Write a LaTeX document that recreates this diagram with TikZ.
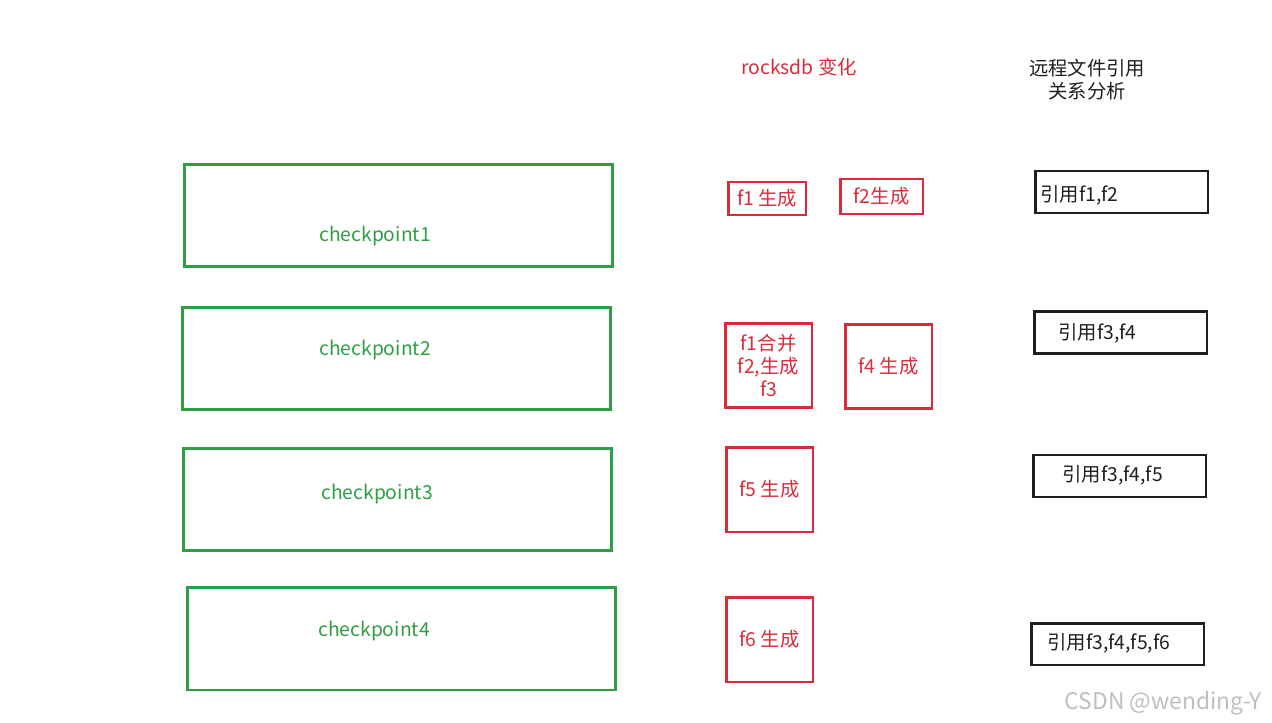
\documentclass[tikz,border=0pt]{standalone}
\usepackage{fontspec}
\setmainfont{Noto Sans CJK SC}
\usepackage{xcolor}
\usetikzlibrary{positioning}

\definecolor{cpgreen}{HTML}{2F9E44}
\definecolor{chred}{HTML}{D92B3A}
\definecolor{refblack}{HTML}{1E1E1E}

\begin{document}
\begin{tikzpicture}[x=0.02cm,y=-0.02cm,every node/.style={font=\fontsize{11}{13}\selectfont},
  cpbox/.style={draw=cpgreen,line width=1.7pt,rectangle,minimum width=8.58cm,minimum height=2.06cm},
  cplabel/.style={text=cpgreen},
  chbox/.style={draw=chred,line width=1.7pt,rectangle,text=chred,align=center,inner sep=1pt},
  refbox/.style={draw=refblack,line width=1.7pt,rectangle,minimum width=3.46cm,minimum height=0.84cm},
  reflabel/.style={text=refblack,anchor=west,inner sep=0pt}]

\useasboundingbox (0,0) rectangle (1272,723);

% column titles
\node[text=chred] (ttlrocks) at (799,67) {rocksdb 变化};
\node[text=refblack,align=center] (ttlref) at (1087,80) {远程文件引用\\关系分析};

% checkpoints
\node[cpbox] (cp1) at (398.5,215.5) {};
\node[cplabel] (cp1txt) at (375,236) {checkpoint1};
\node[cpbox] (cp2) at (396.5,358.5) {};
\node[cplabel] (cp2txt) at (375,350) {checkpoint2};
\node[cpbox] (cp3) at (397.5,499.5) {};
\node[cplabel] (cp3txt) at (377,494) {checkpoint3};
\node[cpbox] (cp4) at (401.5,638.5) {};
\node[cplabel] (cp4txt) at (374,631) {checkpoint4};

% rocksdb changes
\node[chbox,minimum width=1.56cm,minimum height=0.66cm] (gen1) at (767,198.5) {f1 生成};
\node[chbox,minimum width=1.66cm,minimum height=0.70cm] (gen2) at (881.5,196.5) {f2生成};
\node[chbox,minimum width=1.74cm,minimum height=1.70cm] (merge3) at (768.5,365.5) {f1合并\\f2,生成\\f3};
\node[chbox,minimum width=1.74cm,minimum height=1.70cm] (gen4) at (888.5,366.5) {f4 生成};
\node[chbox,minimum width=1.74cm,minimum height=1.70cm] (gen5) at (769.5,489.5) {f5 生成};
\node[chbox,minimum width=1.74cm,minimum height=1.70cm] (gen6) at (769.5,639.5) {f6 生成};

% remote file references
\node[refbox] (ref1) at (1121.5,192) {};
\node[reflabel] (ref1txt) at (1040,195) {引用f1,f2};
\node[refbox] (ref2) at (1120.5,332.5) {};
\node[reflabel] (ref2txt) at (1058,333) {引用f3,f4};
\node[refbox] (ref3) at (1119.5,476) {};
\node[reflabel] (ref3txt) at (1062,475) {引用f3,f4,f5};
\node[refbox] (ref4) at (1117.5,644) {};
\node[reflabel] (ref4txt) at (1047,643) {引用f3,f4,f5,f6};

\node[text=black!25,anchor=east,font=\fontsize{13}{15}\selectfont] (mark) at (1268,703) {CSDN @wending-Y};

\end{tikzpicture}
\end{document}
